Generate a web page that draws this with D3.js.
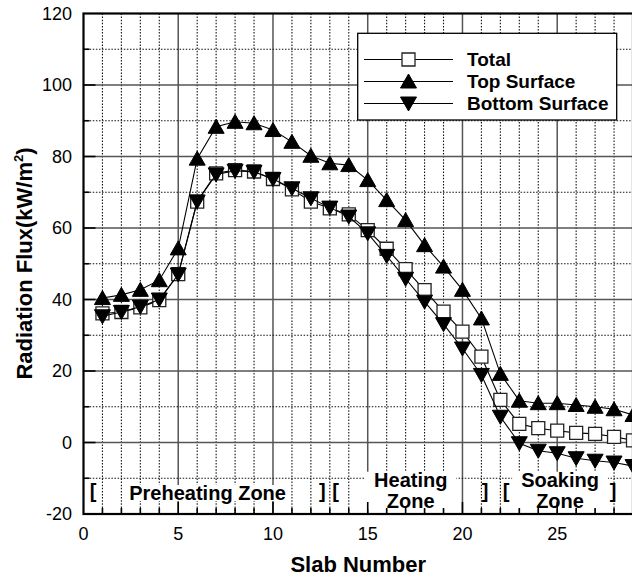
<!DOCTYPE html>
<html>
<head>
<meta charset="utf-8">
<script src="https://cdn.jsdelivr.net/npm/d3@7"></script>
<style>
  body { margin: 0; background: #fff; }
  svg { display: block; font-family: "Liberation Sans", Arial, Helvetica, sans-serif; }
</style>
</head>
<body>
<div id="chart"></div>
<script>
// slab index 1..29
var slabs = d3.range(1, 30);
var totalFlux  = [36.1, 36.5, 37.8, 39.8, 47.1, 67.4, 75.3, 76.2, 75.8, 73.7, 70.8, 67.4, 65.5, 63.8, 59.4, 54.2, 48.5, 42.6, 36.6, 31.0, 24.0, 11.9, 5.2, 4.0, 3.3, 2.7, 2.4, 1.6, 0.6];
var topFlux    = [40.4, 41.3, 42.7, 45.4, 54.3, 79.4, 88.3, 89.7, 89.3, 87.4, 84.1, 80.2, 78.1, 77.6, 73.4, 67.8, 62.2, 55.2, 49.2, 42.7, 34.7, 19.2, 11.7, 11.0, 11.0, 10.5, 10.0, 9.3, 7.7];
var bottomFlux = [35.3, 36.5, 38.0, 40.0, 47.0, 67.4, 75.0, 76.0, 75.7, 73.7, 71.1, 68.3, 65.7, 63.2, 58.5, 52.2, 45.8, 39.4, 33.1, 26.3, 18.9, 7.2, -0.2, -2.3, -3.0, -4.4, -5.1, -5.6, -6.6];
var seriesNames = ["Total", "Top Surface", "Bottom Surface"];
var xTicks = [0, 5, 10, 15, 20, 25];
var yTicks = [-20, 0, 20, 40, 60, 80, 100, 120];
// zone annotations along the bottom (x in slab units)
var zoneLabels = [
  {x: 6.55, lines: ["Preheating Zone"]},
  {x: 17.27, lines: ["Heating", "Zone"]},
  {x: 25.15, lines: ["Soaking", "Zone"]}
];
var brackets = [
  {x: 0.5, t: "["}, {x: 12.6, t: "]"}, {x: 13.3, t: "["},
  {x: 21.2, t: "]"}, {x: 22.3, t: "["}, {x: 27.95, t: "]"}
];

var W = 632, H = 579;
var svg = d3.select("#chart").append("svg").attr("width", W).attr("height", H);

var x = d3.scaleLinear().domain([0, 29]).range([83.5, 633]);
var y = d3.scaleLinear().domain([-20, 120]).range([514, 13.5]);
var x0 = x.range()[0], x1 = x.range()[1], yB = y.range()[0], yT = y.range()[1];

// grid
var grid = svg.append("g");
d3.range(1, 29).forEach(function(v) {
  var major = v % 5 === 0;
  grid.append("line")
    .attr("x1", x(v)).attr("x2", x(v)).attr("y1", yT).attr("y2", yB)
    .attr("stroke", major ? "#555" : "#111")
    .attr("stroke-width", major ? 1.5 : 1.1)
    .attr("stroke-dasharray", major ? null : "1.5,1.6");
});
d3.range(-10, 120, 10).forEach(function(v) {
  var major = v % 20 === 0;
  grid.append("line")
    .attr("x1", x0).attr("x2", x1).attr("y1", y(v)).attr("y2", y(v))
    .attr("stroke", major ? "#555" : "#111")
    .attr("stroke-width", major ? 1.5 : 1.1)
    .attr("stroke-dasharray", major ? null : "1.5,1.6");
});

// zone labels with white backing
var zg = svg.append("g").attr("font-weight", "bold").attr("font-size", 20).attr("fill", "#000");
zoneLabels.forEach(function(z) {
  var g = zg.append("g");
  var base = z.lines.length === 1 ? 500 : 486.7;
  var t = g.append("text").attr("text-anchor", "middle");
  z.lines.forEach(function(s, i) {
    t.append("tspan").attr("x", x(z.x)).attr("y", base + i * 21.6).text(s);
  });
  var bb = t.node().getBBox();
  var pad = z.lines.length === 1 ? 1 : 9;
  g.insert("rect", "text")
    .attr("x", bb.x - pad).attr("y", bb.y + 3).attr("width", bb.width + 2 * pad).attr("height", bb.height - 6)
    .attr("fill", "#fff");
});
brackets.forEach(function(b) {
  zg.append("text").attr("x", x(b.x)).attr("y", 498).attr("text-anchor", "middle").text(b.t);
});

// markers
function markerPath(kind) {
  if (kind === 0) return "M-6.5,-6.5H6.5V6.5H-6.5Z";
  if (kind === 1) return "M0,-7.5L8,6.5L-8,6.5Z";
  return "M0,7.5L8,-6.5L-8,-6.5Z";
}
var series = [totalFlux, topFlux, bottomFlux];
var line = d3.line().x(function(d, i) { return x(slabs[i]); }).y(function(d) { return y(d); });

series.forEach(function(vals, k) {
  var g = svg.append("g");
  g.append("path").attr("d", line(vals)).attr("fill", "none").attr("stroke", "#000").attr("stroke-width", 1.1);
  g.selectAll("path.m").data(vals).enter().append("path")
    .attr("class", "m")
    .attr("d", markerPath(k))
    .attr("transform", function(d, i) { return "translate(" + x(slabs[i]) + "," + y(d) + ")"; })
    .attr("fill", k === 0 ? "#fff" : "#000")
    .attr("stroke", k === 0 ? "#222" : "#000")
    .attr("stroke-width", k === 0 ? 1.3 : 1);
});

// axes ticks + frame
var ax = svg.append("g").attr("stroke", "#000").attr("stroke-width", 1.6);
d3.range(-10, 120, 10).forEach(function(v) {
  var len = v % 20 === 0 ? 12 : 6;
  ax.append("line").attr("x1", x0).attr("x2", x0 + len).attr("y1", y(v)).attr("y2", y(v));
});
d3.range(1, 29).forEach(function(v) {
  var len = v % 5 === 0 ? 12 : 6;
  ax.append("line").attr("x1", x(v)).attr("x2", x(v)).attr("y1", yB).attr("y2", yB - len);
});
ax.append("rect").attr("x", x0).attr("y", yT).attr("width", x1 - x0).attr("height", yB - yT)
  .attr("fill", "none").attr("stroke-width", 2.2);

// tick labels
var tl = svg.append("g").attr("font-size", 18).attr("fill", "#000");
yTicks.forEach(function(v) {
  tl.append("text").attr("x", 72).attr("y", y(v)).attr("dy", "0.36em").attr("text-anchor", "end").text(v);
});
xTicks.forEach(function(v) {
  tl.append("text").attr("x", x(v)).attr("y", 534).attr("dy", "0.36em").attr("text-anchor", "middle").text(v);
});

// axis titles
svg.append("text").attr("x", (x0 + x1) / 2).attr("y", 571.5).attr("text-anchor", "middle")
  .attr("font-size", 22).attr("font-weight", "bold").text("Slab Number");
var yt = svg.append("text").attr("transform", "translate(32,263.5) rotate(-90)").attr("text-anchor", "middle")
  .attr("font-size", 22).attr("font-weight", "bold");
yt.append("tspan").text("Radiation Flux(kW/m");
yt.append("tspan").attr("font-size", 13).attr("dy", -9).text("2");
yt.append("tspan").attr("dy", 9).text(")");

// legend
var lg = svg.append("g");
lg.append("rect").attr("x", 357.7).attr("y", 33.3).attr("width", 259).attr("height", 86.7)
  .attr("fill", "#fff").attr("stroke", "#000").attr("stroke-width", 1.3);
seriesNames.forEach(function(name, k) {
  var ly = 59.5 + k * 22;
  lg.append("line").attr("x1", 364).attr("x2", 453).attr("y1", ly).attr("y2", ly).attr("stroke", "#000").attr("stroke-width", 1.1);
  lg.append("path").attr("d", markerPath(k)).attr("transform", "translate(408.5," + ly + ")")
    .attr("fill", k === 0 ? "#fff" : "#000").attr("stroke", k === 0 ? "#222" : "#000").attr("stroke-width", k === 0 ? 1.3 : 1);
  lg.append("text").attr("x", 467).attr("y", ly).attr("dy", "0.35em")
    .attr("font-size", 19).attr("font-weight", "bold").text(name);
});
</script>
</body>
</html>
